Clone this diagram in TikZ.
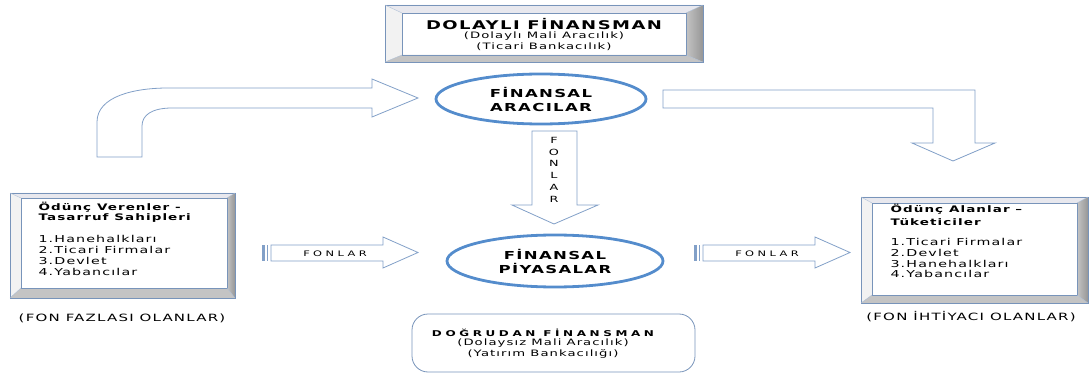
\documentclass[tikz,border=0pt]{standalone}
\usepackage{fontspec}
\setmainfont{DejaVu Sans}[FakeStretch=1.5,LetterSpace=12]
\newfontfamily\genisfont{DejaVu Sans}[FakeStretch=1.5,LetterSpace=45]
\usetikzlibrary{calc,shapes.geometric}

\definecolor{okmavi}{RGB}{130,160,200}
\definecolor{elipsmavi}{RGB}{84,140,204}
\definecolor{kenar}{RGB}{120,148,186}
\definecolor{bevelust}{RGB}{232,232,238}
\definecolor{bevelsol}{RGB}{242,242,242}
\definecolor{bevelalt}{RGB}{196,196,196}
\definecolor{bevelsag}{RGB}{150,150,150}

% kabartmali kutu: dis (#1,#2)-(#3,#4), ic (#5,#6)-(#7,#8)
\newcommand{\kabartmakutu}[8]{%
  \fill[bevelust] (#1,#2) -- (#3,#2) -- (#7,#6) -- (#5,#6) -- cycle;
  \fill[bevelsol] (#1,#2) -- (#5,#6) -- (#5,#8) -- (#1,#4) -- cycle;
  \fill[bevelalt] (#1,#4) -- (#5,#8) -- (#7,#8) -- (#3,#4) -- cycle;
  \shade[left color=bevelalt,right color=bevelsag] (#3,#2) -- (#3,#4) -- (#7,#8) -- (#7,#6) -- cycle;
  \draw[kenar] (#1,#2) rectangle (#3,#4);
  \draw[kenar] (#5,#6) rectangle (#7,#8);
  \draw[kenar!60] (#1,#2) -- (#5,#6) (#3,#2) -- (#7,#6) (#1,#4) -- (#5,#8) (#3,#4) -- (#7,#8);
}

\begin{document}
\begin{tikzpicture}[x=1pt,y=-1pt,
    ok/.style={draw=okmavi,fill=white,line width=0.8pt,line join=miter},
    elips/.style={ellipse,draw=elipsmavi,line width=2.8pt,inner sep=0pt,align=center,
      font=\bfseries\fontsize{11}{14}\selectfont},
    baslik/.style={font=\bfseries\fontsize{12}{13}\selectfont},
    kucuk/.style={font=\fontsize{8.8}{10}\selectfont},
    liste/.style={anchor=west,font=\fontsize{9.5}{10}\selectfont},
    kalin/.style={anchor=west,font=\bfseries\fontsize{9}{10}\selectfont},
    etiket/.style={font=\fontsize{10}{11}\selectfont}]
    \useasboundingbox (0,0) rectangle (1089,374);

    % Dolayli finansman kutusu
    \kabartmakutu{385}{5}{703}{62}{402}{13}{686}{55}
    \node[baslik] (dolayli) at (544,24.5) {DOLAYLI FİNANSMAN};
    \node[kucuk] (dolayli1) at (544,36.5) {(Dolaylı Mali Aracılık)};
    \node[kucuk] (dolayli2) at (544,47) {(Ticari Bankacılık)};

    % Kivrik ok
    \draw[ok] (97,157) -- (97,122) .. controls (97,96) and (135,88) .. (168,88)
      -- (372,88) -- (372,79) -- (418,98) -- (372,117) -- (372,108) -- (172,108)
      .. controls (152,108) and (142,115) .. (142,126) -- (142,157) -- cycle;

    % Sag L ok
    \draw[ok] (663,90) -- (975,90) -- (975,143) -- (995,143) -- (953,161)
      -- (912,143) -- (933,143) -- (933,108) -- (663,108) -- cycle;

    % Finansal aracilar
    \node[elips,minimum width=210pt,minimum height=50pt] (aracilar) at (541,99) {FİNANSAL\\ARACILAR};

    % Asagi ok (FONLAR)
    \draw[ok] (532,131) -- (577,131) -- (577,205) -- (598,205) -- (554,224)
      -- (512,205) -- (532,205) -- cycle;
    \foreach \harf [count=\i] in {F,O,N,L,A,R}
      \node[font=\fontsize{8.5}{9}\selectfont] (harf\i) at (554,{128.5+11.8*\i}) {\harf};

    % Finansal piyasalar
    \node[elips,minimum width=216pt,minimum height=52pt] (piyasalar) at (555,261) {FİNANSAL\\PİYASALAR};

    % Cizgili oklar
    \foreach \dx/\ad in {0/sol,432/sag}{
      \begin{scope}[xshift=\dx]
        \fill[okmavi] (262,245) rectangle (264.5,261);
        \fill[okmavi] (266.5,245) rectangle (268,261);
        \draw[ok] (271,245) -- (383,245) -- (383,237) -- (418,252.5) -- (383,268)
          -- (383,261) -- (271,261) -- cycle;
        \node[font=\genisfont\fontsize{7.6}{9}\selectfont] (fonlar\ad) at (335,253.5) {FONLAR};
      \end{scope}
    }

    % Odunc verenler
    \kabartmakutu{10}{193}{235}{298}{21}{198}{227}{288}
    \node[kalin] (veren1) at (35,207) {Ödünç Verenler -};
    \node[kalin] (veren2) at (35,218) {Tasarruf Sahipleri};
    \node[liste] (v1) at (35,239) {1.Hanehalkları};
    \node[liste] (v2) at (35,250) {2.Ticari Firmalar};
    \node[liste] (v3) at (35,261) {3.Devlet};
    \node[liste] (v4) at (35,271.5) {4.Yabancılar};
    \node[etiket] (fazla) at (122,318) {(FON FAZLASI OLANLAR)};

    % Odunc alanlar
    \kabartmakutu{861}{197}{1088}{303}{872}{203}{1077}{295}
    \node[kalin] (alan1) at (887,209) {Ödünç Alanlar –};
    \node[kalin] (alan2) at (887,222) {Tüketiciler};
    \node[liste] (a1) at (887,242) {1.Ticari Firmalar};
    \node[liste] (a2) at (887,253) {2.Devlet};
    \node[liste] (a3) at (887,263.5) {3.Hanehalkları};
    \node[liste] (a4) at (887,274) {4.Yabancılar};
    \node[etiket] (ihtiyac) at (971,317) {(FON İHTİYACI OLANLAR)};

    % Dogrudan finansman
    \draw[kenar,line width=0.8pt,rounded corners=16pt] (412,314) rectangle (695,372);
    \node[font=\genisfont\bfseries\fontsize{8}{10}\selectfont] (dogrudan) at (543,333) {DOĞRUDAN FİNANSMAN};
    \node[kucuk] (dogrudan1) at (543,343.5) {(Dolaysız Mali Aracılık)};
    \node[kucuk] (dogrudan2) at (543,354) {(Yatırım Bankacılığı)};
\end{tikzpicture}
\end{document}
